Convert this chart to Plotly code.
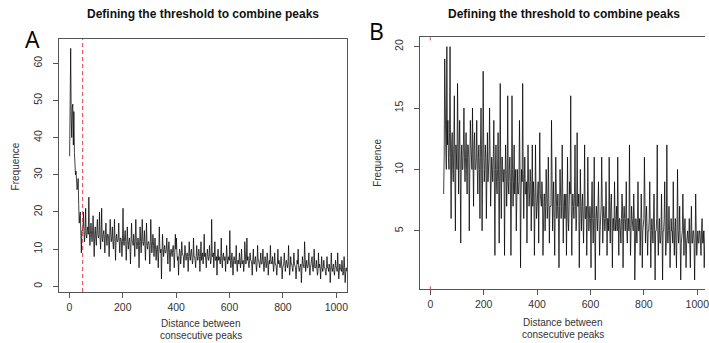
import plotly.graph_objects as go

W, H = 709, 343

# ---------------- Data ----------------
# Panel A: frequency of distances between consecutive peaks (step 2)
dist_a = list(range(1, 1041, 2))
freq_a = [
    35, 50, 64, 45, 40, 48, 49, 38, 47, 36, 32, 30, 31, 28, 26, 27, 29, 22, 17, 19,
    20, 14, 9, 15, 15, 16, 20, 14, 12, 15, 21, 14, 13, 15, 16, 14, 24, 15, 11, 14,
    17, 14, 12, 15, 19, 13, 8, 14, 16, 13, 11, 15, 18, 14, 13, 14, 20, 13, 10, 14,
    21, 13, 12, 14, 15, 13, 9, 14, 17, 13, 11, 14, 14, 13, 8, 13, 18, 14, 12, 13,
    16, 12, 10, 13, 18, 12, 7, 13, 14, 12, 12, 13, 17, 12, 9, 13, 13, 12, 8, 12,
    21, 12, 11, 13, 15, 12, 7, 11, 16, 12, 10, 12, 13, 11, 6, 12, 17, 12, 12, 11,
    14, 12, 8, 13, 18, 12, 10, 11, 13, 12, 5, 11, 16, 12, 9, 13, 18, 12, 11, 12,
    15, 11, 7, 12, 17, 11, 10, 12, 12, 11, 6, 11, 18, 12, 9, 11, 14, 12, 8, 11,
    13, 10, 7, 10, 11, 9, 5, 10, 16, 10, 9, 10, 2, 9, 14, 10, 8, 10, 11, 9,
    9, 10, 13, 9, 6, 10, 12, 9, 4, 9, 10, 9, 8, 10, 11, 9, 5, 9, 14, 10,
    13, 9, 7, 8, 3, 8, 10, 9, 6, 8, 12, 9, 8, 8, 5, 8, 11, 9, 7, 8,
    9, 8, 4, 8, 12, 8, 7, 9, 10, 8, 6, 7, 13, 8, 8, 7, 5, 8, 11, 8,
    7, 8, 10, 8, 4, 8, 12, 7, 8, 9, 6, 8, 14, 8, 9, 7, 5, 8, 10, 8,
    7, 8, 11, 8, 6, 7, 18, 8, 8, 9, 5, 8, 12, 7, 7, 8, 3, 8, 10, 7,
    8, 7, 6, 8, 13, 7, 5, 8, 9, 7, 7, 8, 4, 7, 11, 8, 6, 7, 8, 7,
    15, 7, 5, 7, 9, 6, 3, 7, 8, 7, 6, 7, 11, 6, 4, 7, 7, 6, 9, 7,
    5, 7, 10, 6, 7, 7, 4, 6, 12, 7, 6, 7, 13, 7, 8, 6, 5, 7, 9, 7,
    7, 6, 3, 7, 10, 6, 6, 7, 8, 6, 4, 6, 11, 7, 7, 6, 5, 7, 9, 6,
    6, 7, 10, 6, 4, 6, 8, 7, 5, 6, 9, 7, 3, 6, 7, 6, 11, 7, 6, 6,
    8, 6, 4, 6, 9, 6, 6, 5, 3, 6, 10, 6, 7, 6, 5, 6, 8, 6, 2, 5,
    6, 6, 9, 5, 4, 6, 7, 6, 5, 6, 11, 6, 3, 5, 8, 6, 6, 5, 4, 6,
    9, 6, 5, 5, 2, 5, 7, 6, 10, 5, 4, 5, 6, 6, 1, 5, 8, 6, 5, 5,
    12, 5, 4, 6, 7, 5, 5, 6, 9, 5, 3, 5, 6, 6, 8, 5, 4, 6, 10, 5,
    5, 5, 7, 5, 3, 4, 9, 5, 6, 5, 2, 5, 8, 5, 4, 5, 7, 5, 5, 4,
    3, 5, 8, 5, 5, 4, 6, 5, 1, 4, 9, 5, 4, 5, 6, 4, 3, 5, 7, 5,
    5, 4, 9, 5, 2, 4, 6, 5, 4, 4, 7, 5, 3, 4, 8, 5, 1, 4, 5, 4,
]

# Panel B: distances above the threshold (step 2 from 50)
dist_b = list(range(50, 1050, 2))
freq_b = [
    8, 11, 19, 13, 12, 10, 20, 12, 14, 11, 10, 13, 20, 11, 6, 12, 13, 10, 9, 12,
    16, 10, 5, 12, 11, 10, 17, 11, 8, 12, 14, 10, 4, 11, 12, 10, 10, 12, 15, 11,
    9, 11, 13, 10, 8, 12, 12, 11, 5, 10, 14, 12, 11, 10, 15, 11, 7, 12, 13, 10,
    10, 11, 14, 10, 8, 11, 12, 10, 6, 12, 15, 11, 5, 10, 18, 12, 9, 10, 12, 11,
    6, 10, 13, 9, 10, 11, 15, 10, 7, 9, 11, 10, 9, 11, 14, 9, 3, 10, 12, 9,
    8, 10, 13, 9, 4, 10, 17, 9, 6, 11, 11, 9, 9, 10, 3, 9, 12, 10, 7, 9,
    16, 9, 8, 10, 11, 9, 3, 8, 16, 10, 7, 9, 12, 8, 9, 10, 5, 9, 10, 8,
    8, 9, 14, 10, 2, 8, 10, 9, 17, 10, 6, 9, 11, 8, 8, 9, 4, 8, 12, 9,
    7, 8, 10, 9, 5, 8, 12, 7, 9, 8, 3, 7, 12, 8, 6, 7, 8, 9, 4, 7,
    13, 8, 7, 7, 9, 8, 3, 7, 8, 8, 5, 7, 10, 8, 6, 7, 11, 8, 4, 7,
    7, 7, 14, 8, 5, 7, 9, 6, 3, 7, 11, 8, 6, 7, 8, 6, 2, 7, 10, 8,
    6, 7, 12, 8, 4, 7, 8, 6, 7, 8, 3, 7, 11, 6, 5, 7, 9, 8, 16, 7,
    3, 7, 8, 7, 6, 8, 12, 7, 5, 6, 13, 7, 7, 8, 2, 6, 10, 7, 5, 7,
    8, 6, 4, 7, 12, 6, 6, 7, 3, 6, 11, 7, 5, 6, 7, 6, 2, 7, 9, 6,
    4, 6, 11, 5, 1, 6, 7, 6, 5, 7, 9, 6, 3, 5, 6, 7, 11, 6, 4, 6,
    7, 6, 5, 6, 9, 7, 3, 6, 6, 5, 11, 6, 4, 7, 8, 6, 2, 6, 6, 5,
    9, 6, 5, 6, 7, 5, 11, 6, 3, 6, 6, 5, 4, 6, 8, 7, 2, 6, 7, 6,
    5, 6, 9, 5, 4, 6, 6, 5, 12, 6, 3, 5, 7, 6, 5, 5, 8, 6, 1, 5,
    6, 5, 4, 6, 9, 5, 5, 6, 3, 5, 8, 6, 2, 5, 6, 6, 11, 5, 4, 6,
    7, 5, 3, 5, 5, 6, 9, 5, 2, 5, 6, 5, 4, 6, 8, 5, 1, 5, 5, 6,
    12, 5, 3, 5, 6, 4, 4, 5, 8, 5, 1, 5, 5, 6, 9, 5, 3, 4, 12, 5,
    4, 5, 7, 5, 2, 4, 6, 5, 5, 4, 9, 5, 3, 5, 6, 4, 2, 5, 10, 5,
    4, 5, 7, 4, 1, 4, 5, 5, 8, 4, 3, 5, 6, 4, 2, 4, 5, 5, 4, 4,
    6, 4, 2, 5, 7, 4, 4, 5, 5, 4, 1, 4, 8, 5, 3, 4, 5, 4, 4, 5,
    5, 4, 3, 5, 6, 4, 4, 5, 2, 4, 5, 4, 4, 5, 6, 4, 3, 5, 5, 4,
]

x_ticks = [0, 200, 400, 600, 800, 1000]
y_ticks_a = [0, 10, 20, 30, 40, 50, 60]
y_ticks_b = [5, 10, 15, 20]
threshold = 50
title_text = "Defining the threshold to combine peaks"

# ---------------- Figure ----------------
def px(x):
    return x / W

def py(y):
    return 1 - y / H

fig = go.Figure()
line_style = dict(color="#000", width=0.75)
fig.add_trace(go.Scatter(x=dist_a, y=freq_a, mode="lines", line=line_style,
                         xaxis="x", yaxis="y", showlegend=False, hoverinfo="skip"))
fig.add_trace(go.Scatter(x=dist_b, y=freq_b, mode="lines", line=line_style,
                         xaxis="x2", yaxis="y2", showlegend=False, hoverinfo="skip"))

axis_font = dict(family="Liberation Sans, Arial, sans-serif", size=10.5, color="#333")
frame_col = "#555"

common_x = dict(showgrid=False, zeroline=False, showline=True, linecolor=frame_col,
                linewidth=1, mirror=True, ticks="outside", ticklen=5, tickcolor=frame_col,
                tickvals=x_ticks, tickfont=axis_font, ticklabeloverflow="allow")
common_y = dict(showgrid=False, zeroline=False, showline=True, linecolor=frame_col,
                linewidth=1, ticks="outside", ticklen=5, tickcolor=frame_col,
                tickfont=axis_font, tickangle=-90, ticklabelstandoff=6)

fig.update_layout(
    width=W, height=H, autosize=False,
    margin=dict(l=0, r=0, t=0, b=0),
    paper_bgcolor="white", plot_bgcolor="white",
    xaxis=dict(domain=[px(59), px(349)], range=[-40, 1040], anchor="y", **common_x),
    yaxis=dict(domain=[py(292), py(39)], range=[-1.52, 66.52], anchor="x",
               tickvals=y_ticks_a, mirror=True, **common_y),
    xaxis2=dict(domain=[px(422), 1], range=[-40, 1028.9], anchor="y2", **common_x),
    yaxis2=dict(domain=[py(289.3), py(37.3)], range=[0.24, 20.76], anchor="x2",
                tickvals=y_ticks_b, mirror=False, **common_y),
)

# threshold line in panel A
fig.add_shape(type="line", xref="x", yref="y domain", x0=threshold, x1=threshold,
              y0=0, y1=1, line=dict(color="rgb(230,60,60)", width=1, dash="4px,3px"))
# tiny red marks at x=0 in panel B
for y0, y1 in [(0, 0.012), (0.988, 1)]:
    fig.add_shape(type="line", xref="x2", yref="y2 domain", x0=0, x1=0,
                  y0=y0, y1=y1, line=dict(color="rgb(230,60,60)", width=1))

title_font = dict(family="Liberation Sans, Arial, sans-serif", size=12, color="#111")
lab_font = dict(family="Liberation Sans, Arial, sans-serif", size=10, color="#333")
big_font = dict(family="Open Sans, Noto Sans, sans-serif", size=23, color="#000")

ann = []
def add(text, x, y, font, angle=0):
    ann.append(dict(text=text, x=px(x), y=py(y), xref="paper", yref="paper",
                    xanchor="center", yanchor="middle", showarrow=False,
                    font=font, textangle=angle))

add("<b>%s</b>" % title_text, 204, 14, title_font)
add("<b>%s</b>" % title_text, 567.5, 14, title_font)
add("A", 32.5, 39, big_font)
add("B", 378.5, 31, big_font)
add("Frequence", 15.5, 166, lab_font, -90)
add("Frequence", 379, 163, lab_font, -90)
add("Distance between", 202, 323, lab_font)
add("consecutive peaks", 202, 335, lab_font)
add("Distance between", 566.5, 322.5, lab_font)
add("consecutive peaks", 566.5, 334.5, lab_font)
fig.update_layout(annotations=ann)

fig.write_html("out.html",
               config={"displayModeBar": False},
               post_script="document.body.style.margin='0px';"
                           "document.body.style.overflow='hidden';")
